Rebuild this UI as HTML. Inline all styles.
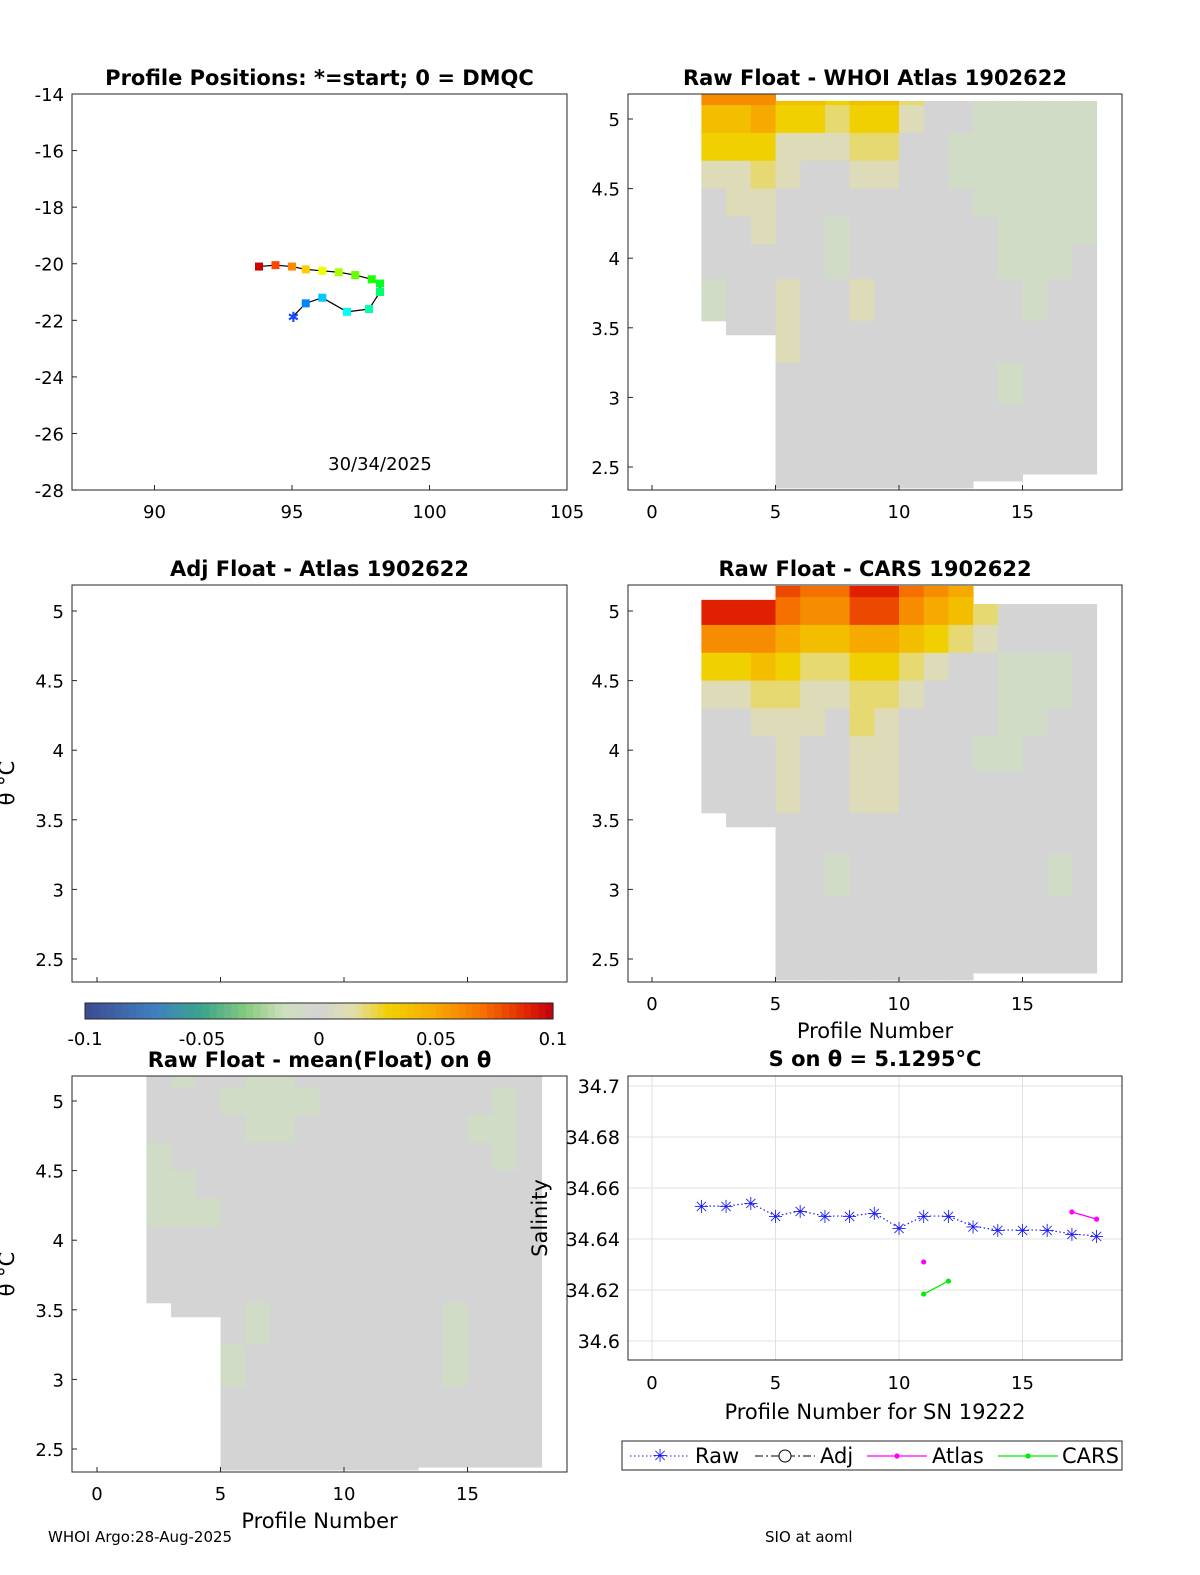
<!DOCTYPE html>
<html><head><meta charset="utf-8"><style>
body{margin:0;background:#fff}
svg{display:block;font-family:"DejaVu Sans","Liberation Sans",sans-serif}
.t{font-size:21px;font-weight:bold;text-anchor:middle}
.k{font-size:18px}
</style></head><body>
<svg id="fig" width="1200" height="1575" viewBox="0 0 1200 1575"></svg>
<script>
// ---- data ----
const trackLon=[95.05,95.5,96.1,97.0,97.8,98.2,98.2,97.9,97.3,96.7,96.1,95.5,95.0,94.4,93.8];
const trackLat=[-21.85,-21.4,-21.2,-21.7,-21.6,-21.0,-20.7,-20.55,-20.4,-20.3,-20.25,-20.2,-20.1,-20.05,-20.1];
const heatCols=[2,3,4,5,6,7,8,9,10,11,12,13,14,15,16,17];
const rowEdges=[5.18,5.1,4.9,4.7,4.5,4.3,4.1,3.85,3.55,3.25,2.95,2.65,2.35];
const whoiTop=[5.18,5.18,5.18,5.13,5.13,5.13,5.13,5.13,5.13,5.13,5.13,5.13,5.13,5.13,5.13,5.13];
const whoiBot=[3.55,3.45,3.45,2.35,2.35,2.35,2.35,2.35,2.35,2.35,2.35,2.4,2.4,2.45,2.45,2.45];
const whoiVals=[
[6,6,6,4,4,3,4,4,2,0,0,-1,-1,-1,-1,-1],
[4,4,5,3,3,2,3,3,1,0,0,-1,-1,-1,-1,-1],
[3,3,3,1,1,1,2,2,0,0,-1,-1,-1,-1,-1,-1],
[1,1,2,1,0,0,1,1,0,0,-1,-1,-1,-1,-1,-1],
[0,1,1,0,0,0,0,0,0,0,0,-1,-1,-1,-1,-1],
[0,0,1,0,0,-1,0,0,0,0,0,0,-1,-1,-1,-1],
[0,0,0,0,0,-1,0,0,0,0,0,0,-1,-1,-1,0],
[-1,0,0,1,0,0,1,0,0,0,0,0,0,-1,0,0],
[0,0,0,1,0,0,0,0,0,0,0,0,0,0,0,0],
[0,0,0,0,0,0,0,0,0,0,0,0,-1,0,0,0],
[0,0,0,0,0,0,0,0,0,0,0,0,0,0,0,0],
[0,0,0,0,0,0,0,0,0,0,0,0,0,0,0,0]];
const carsTop=[5.08,5.08,5.08,5.18,5.18,5.18,5.18,5.18,5.18,5.18,5.18,5.05,5.05,5.05,5.05,5.05];
const carsBot=[3.55,3.45,3.45,2.35,2.35,2.35,2.35,2.35,2.35,2.35,2.35,2.4,2.4,2.4,2.4,2.4];
const carsVals=[
[10,10,10,8,7,7,9,9,7,6,5,3,0,0,0,0],
[9,9,9,7,6,6,8,8,6,5,4,2,0,0,0,0],
[6,6,6,5,4,4,5,5,4,3,2,1,0,0,0,0],
[3,3,4,3,2,2,3,3,2,1,0,0,-1,-1,-1,0],
[1,1,2,2,1,1,2,2,1,0,0,0,-1,-1,-1,0],
[0,0,1,1,1,0,2,1,0,0,0,0,-1,-1,0,0],
[0,0,0,1,0,0,1,1,0,0,0,-1,-1,0,0,0],
[0,0,0,1,0,0,1,1,0,0,0,0,0,0,0,0],
[0,0,0,0,0,0,0,0,0,0,0,0,0,0,0,0],
[0,0,0,0,0,-1,0,0,0,0,0,0,0,0,-1,0],
[0,0,0,0,0,0,0,0,0,0,0,0,0,0,0,0],
[0,0,0,0,0,0,0,0,0,0,0,0,0,0,0,0]];
const meanTop=[5.18,5.18,5.18,5.18,5.18,5.18,5.18,5.18,5.18,5.18,5.18,5.18,5.18,5.18,5.18,5.18];
const meanBot=[3.55,3.45,3.45,2.33,2.33,2.33,2.33,2.33,2.33,2.33,2.33,2.37,2.37,2.37,2.37,2.37];
const meanVals=[
[0,-1,0,0,-1,-1,0,0,0,0,0,0,0,0,0,0],
[0,0,0,-1,-1,-1,-1,0,0,0,0,0,0,0,-1,0],
[0,0,0,0,-1,-1,0,0,0,0,0,0,0,-1,-1,0],
[-1,0,0,0,0,0,0,0,0,0,0,0,0,0,-1,0],
[-1,-1,0,0,0,0,0,0,0,0,0,0,0,0,0,0],
[-1,-1,-1,0,0,0,0,0,0,0,0,0,0,0,0,0],
[0,0,0,0,0,0,0,0,0,0,0,0,0,0,0,0],
[0,0,0,0,0,0,0,0,0,0,0,0,0,0,0,0],
[0,0,0,0,-1,0,0,0,0,0,0,0,-1,0,0,0],
[0,0,0,-1,0,0,0,0,0,0,0,0,-1,0,0,0],
[0,0,0,0,0,0,0,0,0,0,0,0,0,0,0,0],
[0,0,0,0,0,0,0,0,0,0,0,0,0,0,0,0]];
const rawX=[2,3,4,5,6,7,8,9,10,11,12,13,14,15,16,17,18];
const rawS=[34.6529,34.6529,34.6541,34.649,34.651,34.649,34.649,34.6502,34.6443,34.649,34.649,34.645,34.6435,34.6435,34.6435,34.642,34.6412];
const atlasX=[11,17,18];
const atlasS=[34.631,34.6506,34.6478];
const carsX=[11,12];
const carsS=[34.6184,34.6235];
const profTicks=[0,5,10,15];
const thetaTicks=[2.5,3,3.5,4,4.5,5];
const latTicks=[-14,-16,-18,-20,-22,-24,-26,-28];
const lonTicks=[90,95,100,105];
const salTicks=[34.6,34.62,34.64,34.66,34.68,34.7];
const cbTicks=[-0.1,-0.05,0,0.05,0.1];

// ---- helpers ----
const S=document.getElementById('fig');const NS='http://www.w3.org/2000/svg';
function el(tag,at,parent,txt){const e=document.createElementNS(NS,tag);for(const k in at)e.setAttribute(k,at[k]);if(txt!==undefined)e.textContent=txt;(parent||S).appendChild(e);return e;}
function lerp(a,b,t){return a+(b-a)*t}
const cstops=[[-10,[59,76,143]],[-7,[64,128,192]],[-5,[58,165,138]],[-3,[140,204,128]],[-1.5,[206,224,190]],[0,[212,212,212]],[1.5,[226,222,170]],[3,[240,208,0]],[5,[246,170,0]],[7,[246,112,0]],[9,[224,32,0]],[10,[192,0,16]]];
function cmap(v){v=Math.max(-10,Math.min(10,v));for(let i=0;i<cstops.length-1;i++){const a=cstops[i],b=cstops[i+1];if(v<=b[0]){const t=(v-a[0])/(b[0]-a[0]);return 'rgb('+[0,1,2].map(j=>Math.round(lerp(a[1][j],b[1][j],t))).join(',')+')';}}return 'rgb(192,0,16)';}
function frame(x0,y0,x1,y1,name){const r=el('rect',{x:x0,y:y0,width:x1-x0,height:y1-y0,fill:'none',stroke:'#262626','stroke-width':1});}
function txt(x,y,s,cls,anchor,name,extra){const t=el('text',Object.assign({x:x,y:y,class:cls||'k','text-anchor':anchor||'middle'},extra||{}),S,s);return t;}

function thetaPanel(L,T,R,B,px0,py5,title,name){
  const sx=p=>px0+p*24.7, sy=v=>py5-(v-5)*139.2;
  return {sx,sy,L,T,R,B,title,name};
}
function heat(P,top,bot,vals,name){
  const g=el('g',{});
  heatCols.forEach((c,ci)=>{
    for(let r=0;r<rowEdges.length-1;r++){
      let hi=Math.min(rowEdges[r],top[ci]),lo=Math.max(rowEdges[r+1],bot[ci]);
      if(hi<=lo)continue;
      const x=P.sx(c),w=P.sx(c+1)-x,y=P.sy(hi),h=P.sy(lo)-y;
      const rc=el('rect',{x:x,y:Math.max(P.T,y),width:w+0.5,height:h+0.5,fill:cmap(vals[r][ci])},g);
      
      
    }
  });
}
function thetaAxes(P,xlabel,noXLabels){
  profTicks.forEach(p=>{const x=P.sx(p);el('line',{x1:x,x2:x,y1:P.B,y2:P.B-5,stroke:'#262626'});if(!noXLabels)txt(x,P.B+28,String(p),'k','middle','x-tick');});
  thetaTicks.forEach(v=>{const y=P.sy(v);el('line',{x1:P.L,x2:P.L+5,y1:y,y2:y,stroke:'#262626'});txt(P.L-8,y+7,String(v),'k','end','y-tick');});
  frame(P.L,P.T,P.R,P.B,P.name+'-axes');
  txt((P.L+P.R)/2,P.T-9,P.title,'t','middle',P.name+'-title');
  if(xlabel)txt((P.L+P.R)/2,P.B+56,xlabel,'k','middle','x-axis-title',{style:'font-size:21px'});
}

// ---- panel 1: positions ----
(function(){
  const L=72,T=94,R=567,B=490;const sx=v=>567-(105-v)*27.5, sy=v=>94+(-14-v)*28.29;
  latTicks.forEach(v=>{const y=sy(v);el('line',{x1:L,x2:L+5,y1:y,y2:y,stroke:'#262626'});txt(L-8,y+7,String(v),'k','end','y-tick');});
  lonTicks.forEach(v=>{const x=sx(v);el('line',{x1:x,x2:x,y1:B,y2:B-5,stroke:'#262626'});txt(x,B+28,String(v),'k','middle','x-tick');});
  frame(L,T,R,B,'positions-axes');
  txt((L+R)/2,T-9,'Profile Positions: *=start; 0 = DMQC','t','middle','positions-title');
  const pl=el('polyline',{points:trackLon.map((v,i)=>sx(v)+','+sy(trackLat[i])).join(' '),fill:'none',stroke:'#000','stroke-width':1.2});
  
  const n=trackLon.length;
  trackLon.forEach((v,i)=>{
    const hue=Math.round(225-225*i/(n-1));const c='hsl('+hue+',100%,'+(i===n-1?'40%':'50%')+')';
    if(i===0){txt(sx(v),sy(trackLat[i])+6,'✱','k','middle','start-marker',{fill:'#1a4cff',style:'font-size:14px'});return;}
    const m=el('rect',{x:sx(v)-4,y:sy(trackLat[i])-4,width:8,height:8,fill:c});
    
  });
  txt(380,470,'30/34/2025','k','middle','date-label');
})();

const P2=thetaPanel(628,94,1122,490,652,119,'Raw Float - WHOI Atlas  1902622','whoi');
heat(P2,whoiTop,whoiBot,whoiVals,'whoi-heatmap');thetaAxes(P2);
const P3=thetaPanel(72,585,567,982,97,611,'Adj Float - Atlas  1902622','adj');
thetaAxes(P3,null,true);txt(14,783,'θ °C','k','middle','y-axis-title',{transform:'rotate(-90 14 783)',style:'font-size:21px'});
const P4=thetaPanel(628,585,1122,982,652,611,'Raw Float - CARS  1902622','cars');
heat(P4,carsTop,carsBot,carsVals,'cars-heatmap');thetaAxes(P4,'Profile Number');
const P5=thetaPanel(72,1076,567,1472,97,1101,'Raw Float - mean(Float) on θ','mean');
heat(P5,meanTop,meanBot,meanVals,'mean-heatmap');thetaAxes(P5,'Profile Number');
txt(14,1274,'θ °C','k','middle','y-axis-title',{transform:'rotate(-90 14 1274)',style:'font-size:21px'});

// ---- colorbar ----
(function(){
  const L=85,R=553,T=1003,B=1019;const g=el('g',{});
  const N=64;for(let i=0;i<N;i++){const v=-10+20*(i+0.5)/N;el('rect',{x:L+(R-L)*i/N,y:T,width:(R-L)/N+0.6,height:B-T,fill:cmap(v)},g);}
  frame(L,T,R,B,'colorbar-frame');
  cbTicks.forEach(v=>{const x=L+(v+0.1)/0.2*(R-L);txt(x,1045,String(v),'k','middle','colorbar-tick');});
})();

// ---- panel 6: salinity ----
(function(){
  const L=628,T=1076,R=1122,B=1360;const sx=p=>652+p*24.7, sy=v=>1341-(v-34.6)/0.1*255;
  profTicks.forEach(p=>{const x=sx(p);el('line',{x1:x,x2:x,y1:T,y2:B,stroke:'#e0e0e0'});txt(x,B+29,String(p),'k','middle','x-tick');});
  salTicks.forEach(v=>{const y=sy(v);el('line',{x1:L,x2:R,y1:y,y2:y,stroke:'#e0e0e0'});txt(L-8,y+7,v.toFixed(2).replace(/0$/,''),'k','end','y-tick',{style:'font-size:19px'});});
  frame(L,T,R,B,'salinity-axes');
  txt(875,1066,'S on θ = 5.1295°C','t','middle','salinity-title');
  txt(875,1419,'Profile Number for SN 19222','k','middle','x-axis-title',{style:'font-size:21px'});
  txt(547,1218,'Salinity','k','middle','y-axis-title',{transform:'rotate(-90 547 1218)',style:'font-size:21px'});
  const rl=el('polyline',{points:rawX.map((p,i)=>sx(p)+','+sy(rawS[i])).join(' '),fill:'none',stroke:'#1a1aff','stroke-dasharray':'1.5 2.5','stroke-width':1.2});
  
  rawX.forEach((p,i)=>{txt(sx(p),sy(rawS[i])+7,'✳','k','middle','raw-point',{fill:'#1a1aff',style:'font-size:18px'});});
  [[atlasX,atlasS,'#ff00ff','atlas'],[carsX,carsS,'#00ee00','cars']].forEach(([xs,ss,c,nm])=>{
    const segs=[];let cur=[];xs.forEach((p,i)=>{if(i>0&&p-xs[i-1]>1){segs.push(cur);cur=[];}cur.push([sx(p),sy(ss[i])]);});segs.push(cur);
    segs.forEach(s=>{if(s.length>1){const l=el('polyline',{points:s.map(q=>q.join(',')).join(' '),fill:'none',stroke:c,'stroke-width':1.3});}});
    xs.forEach((p,i)=>{const d=el('circle',{cx:sx(p),cy:sy(ss[i]),r:2.6,fill:c});});
  });
  const g=el('g',{});
  el('rect',{x:622,y:1441,width:500,height:29,fill:'#fff',stroke:'#262626'},g);
  el('line',{x1:630,x2:690,y1:1456,y2:1456,stroke:'#1a1aff','stroke-dasharray':'1.5 2.5'},g);
  el('text',{x:660,y:1462,'text-anchor':'middle',fill:'#1a1aff',style:'font-size:18px'},g,'✳');
  el('text',{x:695,y:1463,style:'font-size:21px'},g,'Raw');
  el('line',{x1:755,x2:815,y1:1456,y2:1456,stroke:'#000','stroke-dasharray':'8 3 2 3'},g);
  el('circle',{cx:785,cy:1456,r:6,fill:'#fff',stroke:'#000'},g);
  el('text',{x:820,y:1463,style:'font-size:21px'},g,'Adj');
  el('line',{x1:867,x2:927,y1:1456,y2:1456,stroke:'#ff00ff','stroke-width':1.3},g);
  el('circle',{cx:897,cy:1456,r:2.6,fill:'#ff00ff'},g);
  el('text',{x:932,y:1463,style:'font-size:21px'},g,'Atlas');
  el('line',{x1:998,x2:1058,y1:1456,y2:1456,stroke:'#00ee00','stroke-width':1.3},g);
  el('circle',{cx:1028,cy:1456,r:2.6,fill:'#00ee00'},g);
  el('text',{x:1062,y:1463,style:'font-size:21px'},g,'CARS');
})();
txt(48,1542,'WHOI Argo:28-Aug-2025','k','start','footer-left',{style:'font-size:15px'});
txt(765,1542,'SIO at aoml','k','start','footer-right',{style:'font-size:15px'});
</script>
</body></html>
